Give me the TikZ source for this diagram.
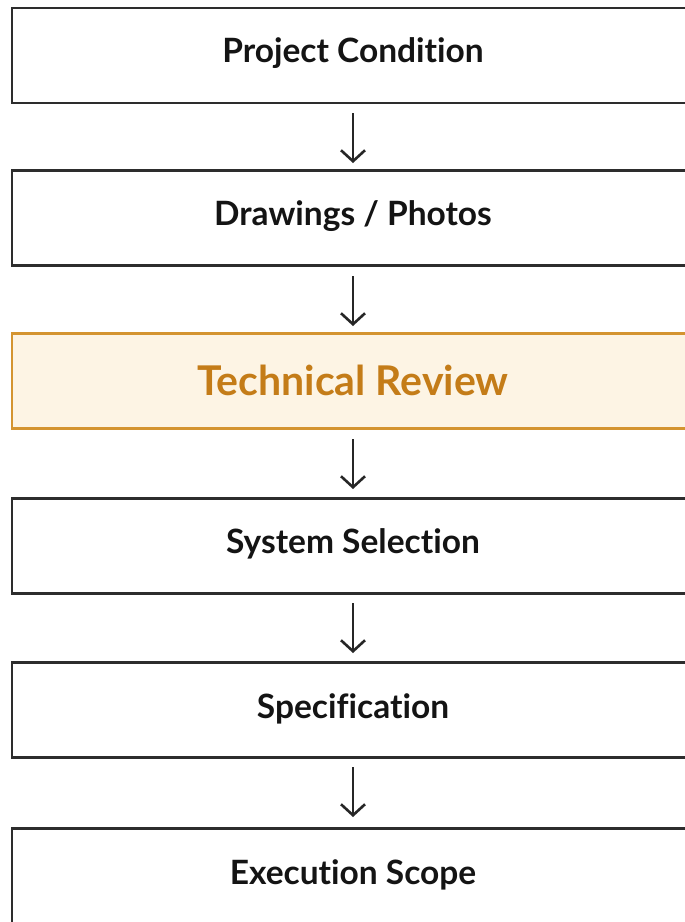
\documentclass[tikz,border=0pt]{standalone}
\usepackage{fontspec}
\setmainfont{Lato}[Ligatures=NoCommon]
\usetikzlibrary{arrows.meta}
\definecolor{boxline}{RGB}{45,45,45}
\definecolor{hlline}{RGB}{212,148,48}
\definecolor{hlfill}{RGB}{253,244,228}
\definecolor{hltext}{RGB}{196,124,24}
\tikzset{
  stepbox/.style={draw=boxline, line width=2.4pt, fill=white, rectangle,
    minimum width=720pt, minimum height=95pt, inner sep=0pt},
  hlbox/.style={stepbox, draw=hlline, fill=hlfill},
  flow/.style={draw=black!85, line width=2.6pt, -{Straight Barb[length=11pt,width=24pt,line width=2.6pt]}},
  lbl/.style={inner sep=0pt, anchor=center, font=\fontsize{33.5}{33.5}\selectfont\bfseries, text=black!92},
  hllbl/.style={lbl, font=\fontsize{41}{41}\selectfont\bfseries, text=hltext}
}
\begin{document}
\begin{tikzpicture}[x=1pt,y=-1pt]
\useasboundingbox (0,0) rectangle (685,922);
\fill[white] (0,0) rectangle (685,922);
\begin{scope}
\clip (0,0) rectangle (685,922);
\node[stepbox] (b1) at (372,55.5) {};
\node[stepbox] (b2) at (372,218) {};
\node[hlbox]   (b3) at (372,381) {};
\node[stepbox] (b4) at (372,546) {};
\node[stepbox] (b5) at (372,710) {};
\node[stepbox] (b6) at (372,876) {};
\end{scope}
\node[lbl] (t1) at (353,53) {Project Condition};
\node[lbl] (t2) at (353,216) {Drawings / Photos};
\node[hllbl] (t3) at (353,380) {Technical Review};
\node[lbl] (t4) at (353,544) {System Selection};
\node[lbl] (t5) at (353,709) {Specification};
\node[lbl] (t6) at (353,875) {Execution Scope};
\coordinate (a1s) at (353,113); \coordinate (a1e) at (353,163);
\coordinate (a2s) at (353,276); \coordinate (a2e) at (353,326);
\coordinate (a3s) at (353,439); \coordinate (a3e) at (353,489);
\coordinate (a4s) at (353,603); \coordinate (a4e) at (353,653);
\coordinate (a5s) at (353,767); \coordinate (a5e) at (353,817);
\draw[flow] (a1s) -- (a1e);
\draw[flow] (a2s) -- (a2e);
\draw[flow] (a3s) -- (a3e);
\draw[flow] (a4s) -- (a4e);
\draw[flow] (a5s) -- (a5e);
\end{tikzpicture}
\end{document}
